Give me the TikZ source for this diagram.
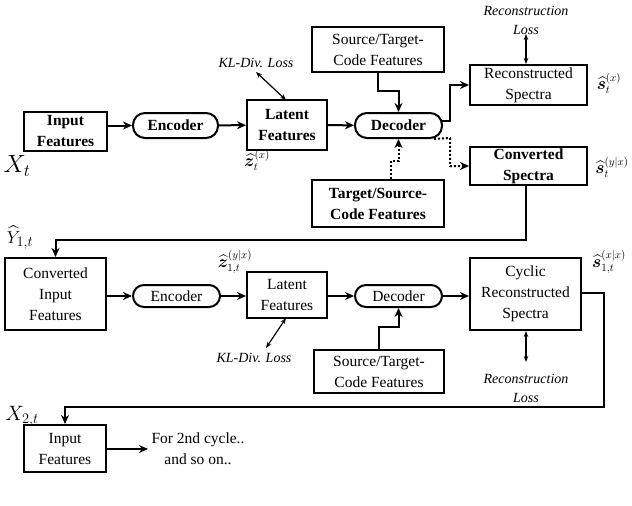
\documentclass[tikz,border=0pt]{standalone}
\usepackage{amsmath,amssymb,bm}
\usepackage{fontspec}
\setmainfont{Liberation Serif}
\usetikzlibrary{arrows.meta}
\begin{document}
\begin{tikzpicture}[x=1pt,y=-1pt,
  box/.style={draw,line width=2pt,align=center,inner sep=1pt,font=\fontsize{15.5}{21}\selectfont},
  bbox/.style={box,font=\fontsize{15.5}{21}\selectfont\bfseries},
  rbox/.style={bbox,rounded corners=12pt},
  rnbox/.style={box,rounded corners=11pt},
  arr/.style={line width=2pt,-{Stealth[length=9pt,width=8pt]}},
  darr/.style={line width=2pt,dotted,-{Stealth[length=9pt,width=8pt]}},
  dbl/.style={line width=1.2pt,{Stealth[length=6pt]}-{Stealth[length=6pt]}},
  lab/.style={font=\fontsize{14}{19}\selectfont\itshape,align=center},
  math/.style={font=\fontsize{16}{16}\selectfont,inner sep=0pt}]
\useasboundingbox (0,0) rectangle (632,506);
% top row
\node[bbox,minimum width=83pt,minimum height=39pt] (in1) at (65.5,131.5) {Input\\Features};
\node[rbox,minimum width=85pt,minimum height=25pt] (enc1) at (175.5,125.5) {Encoder};
\node[bbox,minimum width=80pt,minimum height=50pt] (lat1) at (287,125) {Latent\\Features};
\node[rbox,minimum width=87pt,minimum height=25pt] (dec1) at (398.5,125.5) {Decoder};
\node[box,minimum width=132pt,minimum height=45pt] (src1) at (378,49.5) {Source/Target-\\Code Features};
\node[box,minimum width=117pt,minimum height=40pt] (rec1) at (528.5,85) {Reconstructed\\Spectra};
\node[bbox,minimum width=117pt,minimum height=38pt] (conv1) at (528.5,166) {Converted\\Spectra};
\node[bbox,minimum width=132pt,minimum height=47pt] (tgt1) at (378,203.5) {Target/Source-\\Code Features};
\node[lab] (rl1) at (526,20) {Reconstruction\\Loss};
\coordinate (rl1a) at (526,34);
\node[lab] (kl1) at (256,63) {KL-Div. Loss};
\coordinate (kl1a) at (256,72);
\node[math] (xt) at (17,166) {\fontsize{24}{24}\selectfont$X_t$};
\node[math] (z1) at (257,160) {$\widehat{\bm z}_t^{(x)}$};
\node[math] (s1) at (609,83) {$\widehat{\bm s}_t^{(x)}$};
\node[math] (s2) at (612,167) {$\widehat{\bm s}_t^{(y|x)}$};
\draw[arr] (in1.east |- enc1) -- (enc1);
\draw[arr] (enc1) -- (lat1);
\draw[arr] (lat1) -- (dec1);
\draw[arr] (src1.south) -- ++(0,18) -| (dec1.north);
\draw[arr] (dec1.east) ++(-2,-5) coordinate (d1a) -- (450,120.5) |- (rec1.west);
\draw[darr] (dec1.south east) ++(-9,0) -- (450,138) |- (conv1.west);
\draw[darr] (tgt1.north) ++(13,0) -- ++(0,-18) -| (dec1.south);
\draw[dbl] (rl1a) -- (rec1.north -| rl1a);
\draw[dbl] (kl1a) -- (286,100);
% second row
\node[box,minimum width=101pt,minimum height=72pt] (in2) at (55.5,294) {Converted\\Input\\Features};
\node[rnbox,minimum width=87pt,minimum height=22pt] (enc2) at (176.5,296) {Encoder};
\node[box,minimum width=80pt,minimum height=46pt] (lat2) at (287,295) {Latent\\Features};
\node[rnbox,minimum width=87pt,minimum height=22pt] (dec2) at (398.5,296) {Decoder};
\node[box,minimum width=130pt,minimum height=43pt] (src2) at (379,371.5) {Source/Target-\\Code Features};
\node[box,minimum width=111pt,minimum height=72pt] (cyc) at (525.5,294) {Cyclic\\Reconstructed\\Spectra};
\node[lab] (rl2) at (526,388) {Reconstruction\\Loss};
\coordinate (rl2a) at (526,362);
\node[lab] (kl2) at (254,358) {KL-Div. Loss};
\coordinate (kl2a) at (266,348);
\node[math] (y1) at (20,238) {\fontsize{19}{19}\selectfont$\widehat{Y}_{1,t}$};
\node[math] (z2) at (235,262) {$\widehat{\bm z}_{1,t}^{(y|x)}$};
\node[math] (s3) at (609,262) {$\widehat{\bm s}_{1,t}^{(x|x)}$};
\draw[arr] (526,185) -- (526,240) -| (in2.north);
\draw[arr] (in2.east |- enc2) -- (enc2);
\draw[arr] (enc2) -- (lat2.west |- enc2);
\draw[arr] (lat2.east |- dec2) -- (dec2);
\draw[arr] (dec2) -- (cyc.west |- dec2);
\draw[arr] (src2.north) -- ++(0,-22) -| (dec2.south);
\draw[dbl] (rl2a) -- (cyc.south -| rl2a);
\draw[dbl] (kl2a) -- (286,318);
% third row
\node[box,minimum width=82pt,minimum height=47pt] (in3) at (65,448.5) {Input\\Features};
\node[font=\fontsize{15.5}{21}\selectfont,align=center] (more) at (198,449) {For 2nd cycle..\\and so on..};
\node[math] (x2) at (22,416) {\fontsize{20}{20}\selectfont$X_{2,t}$};
\draw[arr] (cyc.east |- 0,293) -- (604,293) |- (65,407) -- (in3.north);
\draw[arr] (in3.east |- more) -- (more.west);
\end{tikzpicture}
\end{document}
